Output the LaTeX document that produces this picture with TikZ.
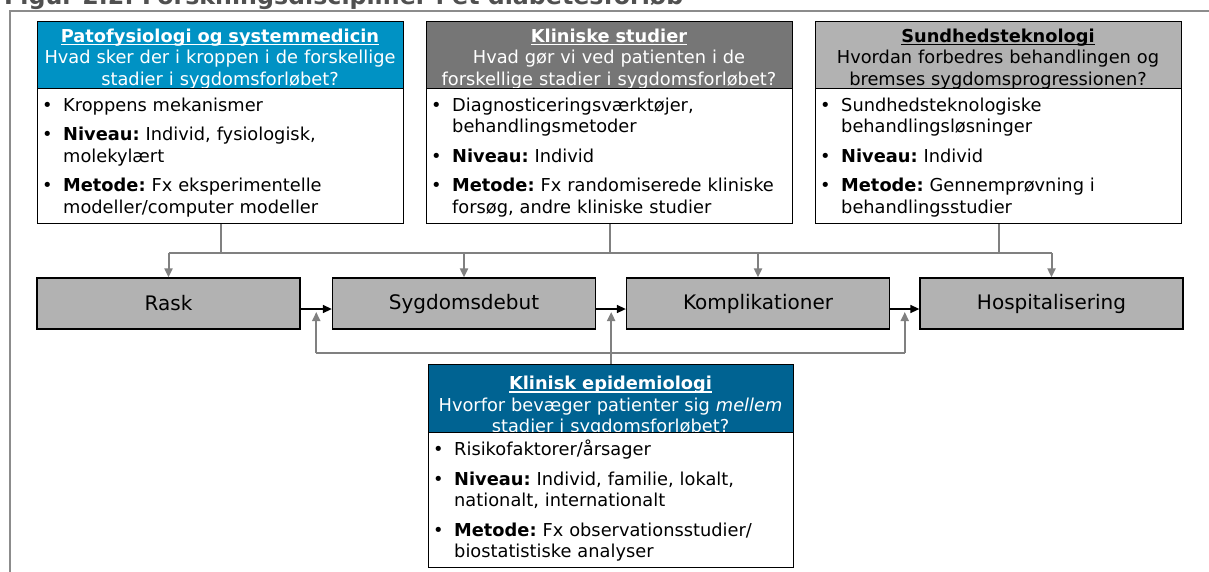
\documentclass[tikz,border=0pt]{standalone}
\usepackage{graphicx}
\usepackage{fontspec}
\setmainfont{DejaVu Sans}
\usetikzlibrary{arrows.meta,calc}
\frenchspacing

\definecolor{hdrblue}{RGB}{0,146,196}
\definecolor{hdrdark}{RGB}{118,118,118}
\definecolor{hdrlight}{RGB}{178,178,178}
\definecolor{hdrnavy}{RGB}{0,99,146}
\definecolor{stagefill}{RGB}{178,178,178}
\definecolor{linegray}{RGB}{128,128,128}
\definecolor{framegray}{RGB}{140,140,140}
\definecolor{titlegray}{RGB}{80,80,80}

% fonts
\newcommand\hdrfont{\fontsize{17.8pt}{21.5pt}\selectfont\frenchspacing}
\newcommand\bodyfont{\fontsize{17.8pt}{21.5pt}\selectfont\frenchspacing}
\newcommand\stagefont{\fontsize{20pt}{24pt}\selectfont}

% bold underlined heading, underline in the current colour
\newcommand\ulbf[1]{\setbox0\hbox{\bfseries #1}\rlap{\rule[-3pt]{\wd0}{1.4pt}}\box0}
% bullet paragraph with hanging indent (line breaks inside with \newline)
\newcommand\bitem[1]{\setlength{\parskip}{8pt}\hangindent=21pt\hangafter=1\strut\makebox[21pt][l]{•}#1\par}

\begin{document}
\begin{tikzpicture}[x=1pt,y=-1pt,
  box/.style={draw=black, line width=1.3pt, inner sep=0, anchor=north west},
  hdrtext/.style={anchor=north, inner sep=0, text width=360pt, align=center, font=\hdrfont},
  bodytext/.style={anchor=north west, inner sep=0, text width=358pt, align=left, font=\bodyfont},
  stage/.style={draw=black, line width=1.3pt, fill=stagefill, minimum width=263, minimum height=51, inner sep=0, font=\stagefont},
  gline/.style={draw=linegray, line width=2pt},
  garrow/.style={gline, -{Triangle[length=9pt,width=8pt]}},
  barrow/.style={draw=black, line width=1.5pt, -{Triangle[length=9pt,width=8pt]}},
]
\useasboundingbox (0,0) rectangle (1209,571);

% partly visible caption and the outer frame
\begin{scope}
  \clip (0,0) rectangle (1209,571);
  \node[anchor=base west, inner sep=0, text=titlegray] (caption) at (4,4)
    {\resizebox{679pt}{!}{\bfseries Figur 2.2: Forskningsdiscipliner i et diabetesforløb}};
  \draw[framegray, line width=2.5pt] (10,590) -- (10,11) -- (1230,11);
\end{scope}

% ---- research discipline boxes (top row) ----
% Patofysiologi
\node[box, fill=hdrblue, minimum width=366, minimum height=67] (h1) at (37,21) {};
\node[hdrtext, text=white] (h1t) at (220,27)
  {\strut\ulbf{Patofysiologi og systemmedicin}\\Hvad sker der i kroppen i de forskellige\\stadier i sygdomsforløbet?};
\node[box, fill=white, minimum width=366, minimum height=135] (b1) at (37,88) {};
\node[bodytext] (b1t) at (42,96)
  {\bitem{Kroppens mekanismer}\bitem{\textbf{Niveau:} Individ, fysiologisk,\newline molekylært}\bitem{\textbf{Metode:} Fx eksperimentelle\newline modeller/computer modeller}};

% Kliniske studier
\node[box, fill=hdrdark, minimum width=366, minimum height=67] (h2) at (426,21) {};
\node[hdrtext, text=white] (h2t) at (609,27)
  {\strut\ulbf{Kliniske studier}\\Hvad gør vi ved patienten i de\\forskellige stadier i sygdomsforløbet?};
\node[box, fill=white, minimum width=366, minimum height=135] (b2) at (426,88) {};
\node[bodytext] (b2t) at (431,96)
  {\bitem{Diagnosticeringsværktøjer,\newline behandlingsmetoder}\bitem{\textbf{Niveau:} Individ}\bitem{\textbf{Metode:} Fx randomiserede kliniske\newline forsøg, andre kliniske studier}};

% Sundhedsteknologi
\node[box, fill=hdrlight, minimum width=366, minimum height=67] (h3) at (815,21) {};
\node[hdrtext, text=black] (h3t) at (998,27)
  {\strut\ulbf{Sundhedsteknologi}\\Hvordan forbedres behandlingen og\\bremses sygdomsprogressionen?};
\node[box, fill=white, minimum width=366, minimum height=135] (b3) at (815,88) {};
\node[bodytext] (b3t) at (820,96)
  {\bitem{Sundhedsteknologiske\newline behandlingsløsninger}\bitem{\textbf{Niveau:} Individ}\bitem{\textbf{Metode:} Gennemprøvning i\newline behandlingsstudier}};

% ---- disease stages ----
\node[stage] (rask) at (168.5,303.5) {Rask};
\node[stage] (syg)  at (464,303.5) {Sygdomsdebut};
\node[stage] (komp) at (758,303.5) {Komplikationer};
\node[stage] (hosp) at (1051.5,303.5) {Hospitalisering};

% ---- Klinisk epidemiologi (bottom) ----
\node[box, fill=hdrnavy, minimum width=365, minimum height=68] (h4) at (428,364) {};
\node[hdrtext, text=white] (h4t) at (610.5,374.5)
  {\strut\ulbf{Klinisk epidemiologi}\\Hvorfor bevæger patienter sig \textit{mellem}\\stadier i sygdomsforløbet?};
\node[box, fill=white, minimum width=365, minimum height=135] (b4) at (428,432) {};
\node[bodytext] (b4t) at (433,440)
  {\bitem{Risikofaktorer/årsager}\bitem{\textbf{Niveau:} Individ, familie, lokalt,\newline nationalt, internationalt}\bitem{\textbf{Metode:} Fx observationsstudier/\newline biostatistiske analyser}};

% ---- connectors ----
\coordinate (bus)  at (0,253);
\coordinate (ay)   at (0,309);
\coordinate (tipy) at (0,312);
\coordinate (rbus) at (0,353);
\coordinate (g1) at ($(rask.east)!0.5!(syg.west)$);
\coordinate (g2) at ($(syg.east)!0.5!(komp.west)$);
\coordinate (g3) at ($(komp.east)!0.5!(hosp.west)$);

% discipline boxes feed all stages
\draw[gline] (b1.south) -- (b1.south |- bus);
\draw[gline] (b2.south) -- (b2.south |- bus);
\draw[gline] (b3.south) -- (b3.south |- bus);
\draw[gline] (rask.north |- bus) -- (hosp.north |- bus);
\draw[garrow] (rask.north |- bus) -- (rask.north);
\draw[garrow] (syg.north |- bus) -- (syg.north);
\draw[garrow] (komp.north |- bus) -- (komp.north);
\draw[garrow] (hosp.north |- bus) -- (hosp.north);

% progression between stages
\draw[barrow] (rask.east |- ay) -- (syg.west |- ay);
\draw[barrow] (syg.east |- ay) -- (komp.west |- ay);
\draw[barrow] (komp.east |- ay) -- (hosp.west |- ay);

% epidemiology looks at the transitions
\draw[gline] (g1 |- rbus) -- (g3 |- rbus);
\draw[garrow] (h4.north) -- (h4.north |- tipy);
\draw[garrow] (g1 |- rbus) -- (g1 |- tipy);
\draw[garrow] (g3 |- rbus) -- (g3 |- tipy);
\end{tikzpicture}
\end{document}
